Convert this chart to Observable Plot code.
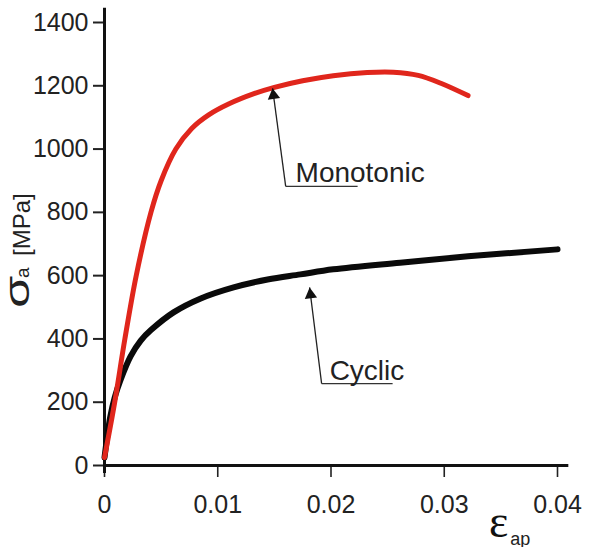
<!DOCTYPE html>
<html>
<head>
<meta charset="utf-8">
<script src="https://cdn.jsdelivr.net/npm/d3@7"></script>
<script src="https://cdn.jsdelivr.net/npm/@observablehq/plot@0.6"></script>
<style>
  html, body { margin: 0; padding: 0; background: #fff; }
  #chart { width: 590px; height: 547px; }
</style>
</head>
<body>
<div id="chart"></div>
<script>
// Monotonic (red) curve: strain amplitude vs stress amplitude [MPa]
const monoStrain = [0.0000, 0.0009, 0.0018, 0.0028, 0.0041, 0.0050, 0.0063, 0.0077, 0.0092, 0.0110, 0.0132, 0.0150, 0.0175, 0.0202, 0.0232, 0.0255, 0.0277, 0.0297, 0.0321];
const monoStress = [25, 200, 400, 600, 800, 900, 1000, 1065, 1108, 1143, 1175, 1195, 1216, 1232, 1242, 1243, 1233, 1208, 1169];

// Cyclic (black) curve
const cycStrain = [0.0000, 0.0005, 0.0009, 0.0014, 0.0023, 0.0032, 0.0041, 0.0061, 0.0085, 0.0114, 0.0144, 0.0173, 0.0202, 0.0261, 0.0321, 0.0400];
const cycStress = [25, 152, 215, 269, 345, 395, 428, 484, 528, 563, 588, 604, 620, 641, 661, 683];

// Axis ticks
const xTicks = [0, 0.01, 0.02, 0.03, 0.04];
const xTickLabels = ["0", "0.01", "0.02", "0.03", "0.04"];
const yTicks = [0, 200, 400, 600, 800, 1000, 1200, 1400];

// Annotations (label, text anchor, arrow base, arrow tip, head centre, underline end, head angle)
const annLabels = ["Monotonic", "Cyclic"];
const annTextX = [0.01687, 0.01988];
const annTextY = [923, 297];
const annBaseX = [0.0160, 0.01917];
const annBaseY = [882, 259];
const annTipX = [0.01484, 0.01811];
const annTipY = [1192, 563];
const annHeadX = [0.01492, 0.01819];
const annHeadY = [1170, 540];
const annLineEndX = [0.02235, 0.02544];
const annAngle = [-7.6, -7.1];

const mono = monoStrain.map((x, i) => ({x, y: monoStress[i]}));
const cyc = cycStrain.map((x, i) => ({x, y: cycStress[i]}));
const ann = annLabels.map((label, i) => ({
  label, tx: annTextX[i], ty: annTextY[i],
  bx: annBaseX[i], by: annBaseY[i], px: annTipX[i], py: annTipY[i],
  hx: annHeadX[i], hy: annHeadY[i], ex: annLineEndX[i], angle: annAngle[i]
}));

const chart = Plot.plot({
  width: 590,
  height: 547,
  marginLeft: 104,
  marginRight: 33,
  marginTop: 22,
  marginBottom: 82,
  x: {domain: [0, 0.04]},
  y: {domain: [0, 1400]},
  style: {fontFamily: "'Liberation Sans', Arial, sans-serif", background: "#fff", color: "#222", overflow: "visible"},
  marks: [
    Plot.axisY({ticks: yTicks, tickSize: 11, tickPadding: 5, fontSize: 25, strokeWidth: 2, stroke: "#222", fill: "#222", tickFormat: d => String(d), label: null}),
    Plot.axisX({ticks: xTicks, tickSize: 12, tickPadding: 18, fontSize: 25, strokeWidth: 1.6, stroke: "#222", fill: "#222", tickFormat: (d, i) => xTickLabels[i], label: null}),
    Plot.ruleY([0], {x1: 0, x2: 0.041, stroke: "#111", strokeWidth: 3}),
    Plot.ruleX([0], {y1: -25, y2: 1445, stroke: "#111", strokeWidth: 3}),
    Plot.line(cyc, {x: "x", y: "y", stroke: "#0a0a0a", strokeWidth: 6, curve: "catmull-rom"}),
    Plot.line(mono, {x: "x", y: "y", stroke: "#e0261c", strokeWidth: 5, curve: "catmull-rom"}),
    Plot.link(ann, {x1: "bx", y1: "by", x2: "px", y2: "py", stroke: "#222", strokeWidth: 1.3}),
    Plot.link(ann, {x1: "bx", y1: "by", x2: "ex", y2: "by", stroke: "#333", strokeWidth: 1.3}),
    Plot.dot(ann, {x: "hx", y: "hy", symbol: "triangle", r: 4.6, fill: "#111", stroke: "none", rotate: "angle"}),
    Plot.text(ann, {x: "tx", y: "ty", text: "label", textAnchor: "start", fontSize: 28, fill: "#222"})
  ]
});

document.getElementById("chart").appendChild(chart);

// Axis titles with mixed sizes
const svg = d3.select(chart);
const fam = "'Liberation Sans', Arial, sans-serif";
svg.append("text")
  .attr("transform", "translate(29,308) rotate(-90) scale(1.45,1)")
  .attr("text-anchor", "start").attr("font-family", fam)
  .attr("font-size", 36).attr("fill", "#222").text("σ");
svg.append("text")
  .attr("transform", "translate(29,278) rotate(-90)")
  .attr("text-anchor", "start").attr("font-family", fam)
  .attr("font-size", 19).attr("fill", "#222").text("a");
svg.append("text")
  .attr("transform", "translate(30,256) rotate(-90)")
  .attr("text-anchor", "start").attr("font-family", fam)
  .attr("font-size", 24).attr("fill", "#222").text("[MPa]");

const xl = svg.append("text")
  .attr("x", 489).attr("y", 537)
  .attr("text-anchor", "start")
  .attr("font-family", "'Liberation Serif', 'DejaVu Serif', serif")
  .attr("fill", "#111");
xl.append("tspan").attr("font-size", 46).text("ε");
xl.append("tspan")
  .attr("font-family", fam)
  .attr("font-size", 18).attr("dx", 2).attr("dy", 8).attr("fill", "#222").text("ap");
</script>
</body>
</html>
